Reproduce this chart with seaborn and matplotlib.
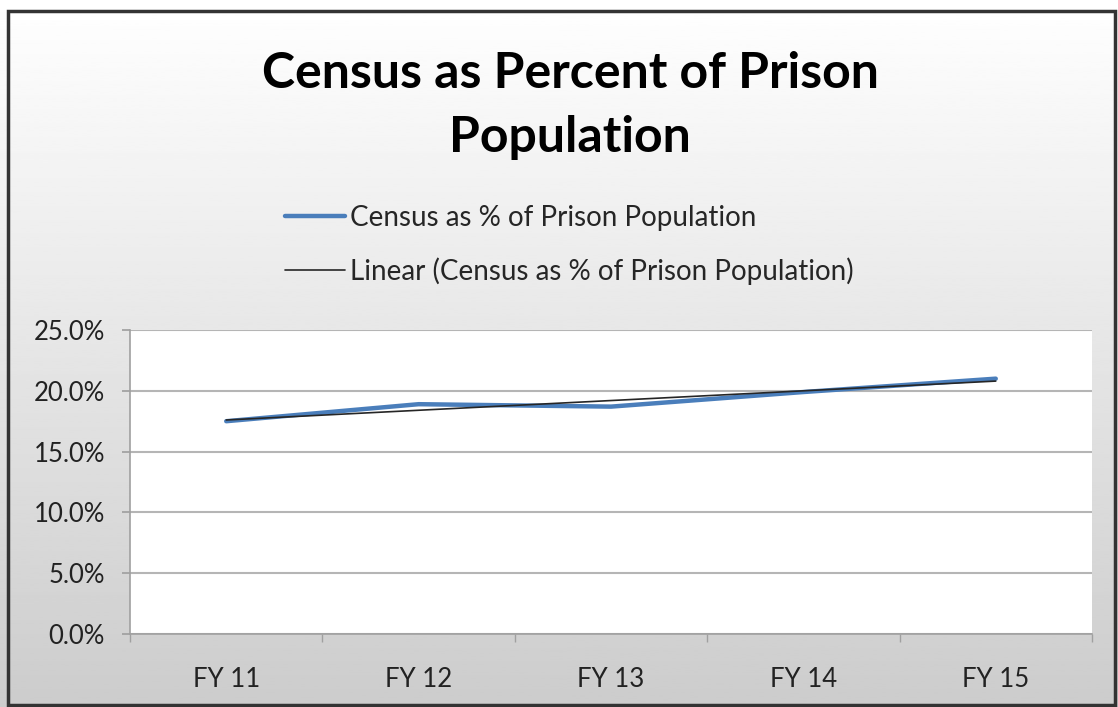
import numpy as np
import pandas as pd
import seaborn as sns
import matplotlib.pyplot as plt
from matplotlib.patches import Rectangle

years = ["FY 11", "FY 12", "FY 13", "FY 14", "FY 15"]
census_pct = [17.5, 18.9, 18.7, 19.9, 21.0]
y_ticks = [0, 5, 10, 15, 20, 25]

sns.set_theme(style="white")
plt.rcParams['font.family'] = ['Lato', 'DejaVu Sans']

df = pd.DataFrame({"pos": np.arange(len(years)), "year": years, "pct": census_pct})

fig = plt.figure(figsize=(11.18, 7.07), dpi=100)

# gradient background like the excel chart area
bg = fig.add_axes([0, 0, 1, 1], zorder=-10)
grad = np.linspace(1.0, 0.80, 256).reshape(-1, 1)
bg.imshow(grad, cmap="gray", vmin=0, vmax=1, aspect="auto", extent=[0, 1, 0, 1])
bg.add_patch(Rectangle((0.007, 0.003), 0.99, 0.982, fill=False, edgecolor="#333333", lw=2.5,
                       transform=bg.transAxes))
bg.set_xlim(0, 1)
bg.set_ylim(0, 1)
bg.axis("off")

ax = fig.add_axes([0.1163, 0.1033, 0.8604, 0.4299])
ax.set_facecolor("white")

sns.lineplot(data=df, x="pos", y="pct", ax=ax, color="#4A7EBB", lw=3.2,
             label="Census as % of Prison Population")
sns.regplot(data=df, x="pos", y="pct", ax=ax, ci=None, scatter=False,
            line_kws={"color": "#262626", "lw": 1.2}, truncate=True,
            label="Linear (Census as % of Prison Population)")

ax.set_xlim(-0.5, 4.5)
ax.set_ylim(0, 25)
ax.set_yticks(y_ticks)
ax.set_yticklabels([f"{t:.1f}%" for t in y_ticks])
ax.set_xticks(df["pos"])
ax.set_xticklabels(years)
ax.set_xticks(np.arange(-0.5, 5, 1), minor=True)
ax.grid(axis="y", color="#b5b5b5", lw=1.5)
ax.set_axisbelow(True)
for s in ["top", "right"]:
    ax.spines[s].set_visible(False)
for s in ["left", "bottom"]:
    ax.spines[s].set_color("#a0a0a0")
    ax.spines[s].set_linewidth(1.2)
ax.tick_params(axis="y", which="major", left=True, length=6, color="#a0a0a0", labelsize=18.5,
               labelcolor="#222222", pad=12)
ax.tick_params(axis="x", which="major", bottom=False, labelsize=18.5, labelcolor="#222222", pad=18)
ax.tick_params(axis="x", which="minor", bottom=True, length=6, color="#a0a0a0")
ax.set_xlabel("")
ax.set_ylabel("")

leg = ax.legend(loc="center left", bbox_to_anchor=(0.255, 0.6535), bbox_transform=fig.transFigure,
                frameon=False, fontsize=20, labelspacing=0.94, handlelength=2.15,
                handletextpad=0.18, borderpad=0, borderaxespad=0)

fig.text(0.51, 0.851, "Census as Percent of Prison\nPopulation", ha="center", va="center",
         fontsize=36, fontweight="bold", color="black", linespacing=1.52)

fig.savefig("out.png", dpi=100)
